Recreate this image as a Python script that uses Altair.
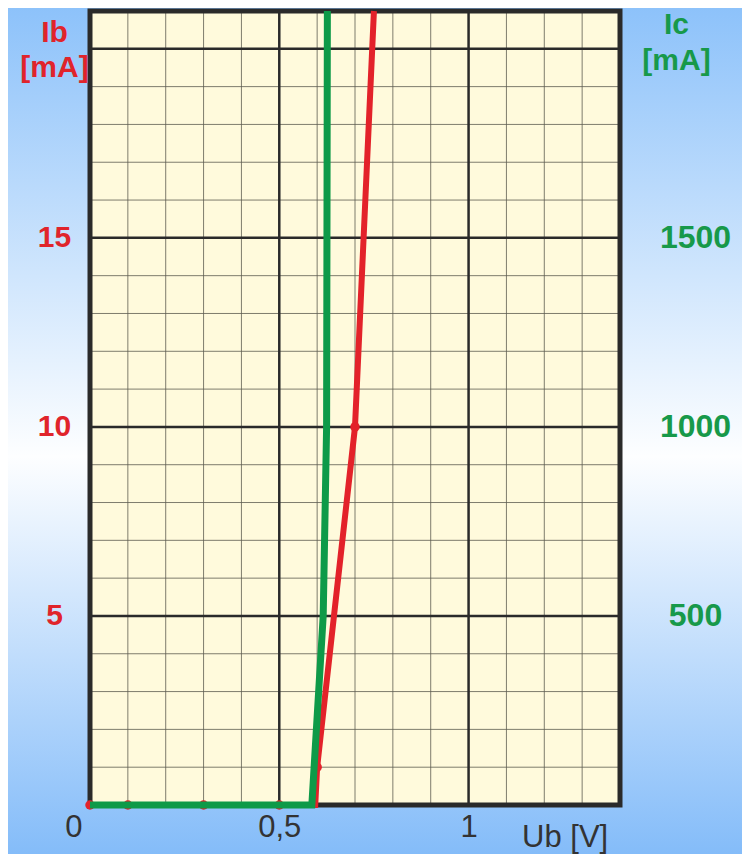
import altair as alt
import pandas as pd

# ---- data ----
ub_red_line = [0, 0.1, 0.3, 0.5, 0.595, 0.6, 0.7, 0.75]
ib_red_line = [0, 0, 0, 0, 0, 1, 10, 21]
ub_red_pts = [0, 0.1, 0.3, 0.5, 0.6, 0.7]
ib_red_pts = [0, 0, 0, 0, 1, 10]
ub_green = [0, 0.586, 0.616, 0.625, 0.627]
ic_green = [0, 0, 500, 1000, 2100]

x_ticks = [0, 0.5, 1]
x_tick_labels = ["0", "0,5", "1"]
ib_ticks = [5, 10, 15]
ic_ticks = [500, 1000, 1500]
x_minor = [0.1, 0.2, 0.3, 0.4, 0.6, 0.7, 0.8, 0.9, 1.1, 1.2, 1.3]
x_major = [0.5, 1.0]
y_minor = [1, 2, 3, 4, 6, 7, 8, 9, 11, 12, 13, 14, 16, 17, 18, 19]
y_major = [5, 10, 15, 20]

# ---- styling ----
W, H = 530, 794
PAD = {"left": 82, "top": 3, "right": 122, "bottom": 49}
FONT = "Liberation Sans"
RED = "#E3222A"
GREEN = "#0E9A48"
RED_TXT = "#E0242B"
GREEN_TXT = "#17994A"
DARK = "#2A2A2A"

xscale = alt.Scale(domain=[0, 1.4], nice=False, zero=False)
yl = alt.Scale(domain=[0, 21], nice=False)
yr = alt.Scale(domain=[0, 2100], nice=False)

label_expr = " : ".join(
    f"datum.value == {v} ? '{l}'" for v, l in zip(x_ticks, x_tick_labels)
) + " : datum.label"

x_axis = alt.Axis(
    values=x_ticks, labelExpr=label_expr, grid=False, domain=False,
    ticks=False, tickSize=0, labelFont=FONT, labelFontSize=31,
    labelColor="#333333", labelFontWeight="normal", labelBaseline="alphabetic",
    labelPadding=31,
    labelAlign={"condition": {"test": "datum.value == 0", "value": "right"}, "value": "center"},
    labelOffset={"condition": {"test": "datum.value == 0", "value": -8}, "value": 0},
    labelFlush=False, labelOverlap=False,
    title="Ub [V]", titleFont=FONT, titleFontSize=31, titleFontWeight="normal",
    titleColor="#333333", titleX=474.6, titleY=41, titleAlign="center",
    titleBaseline="alphabetic", zindex=1,
)

left_axis = alt.Axis(
    orient="left", values=ib_ticks, format="d", grid=False, domain=False, ticks=False,
    tickSize=0, labelFont=FONT, labelFontSize=30, labelFontWeight="bold",
    labelColor=RED_TXT, labelAlign="center", labelPadding=36, labelOverlap=False,
    title=["Ib", "[mA]"], titleFont=FONT, titleFontSize=30, titleFontWeight="bold",
    titleColor=RED_TXT, titleAngle=0, titleX=-36, titleY=30, titleAlign="center",
    titleBaseline="alphabetic", titleLineHeight=35, zindex=1,
)

right_axis = alt.Axis(
    orient="right", values=ic_ticks, format="d", grid=False, domain=False, ticks=False,
    tickSize=0, labelFont=FONT, labelFontSize=32, labelFontWeight="bold",
    labelColor=GREEN_TXT, labelAlign="center", labelPadding=75, labelOverlap=False,
    title=["Ic", "[mA]"], titleFont=FONT, titleFontSize=30, titleFontWeight="bold",
    titleColor=GREEN_TXT, titleAngle=0, titleX=56, titleY=22, titleAlign="center",
    titleBaseline="alphabetic", titleLineHeight=36, zindex=1,
)

one = pd.DataFrame({"k": [0]})

bg = alt.Chart(one).mark_rect(
    fill=alt.Gradient(
        gradient="linear",
        stops=[
            alt.GradientStop(color="#8DC2FA", offset=0),
            alt.GradientStop(color="#FDFEFF", offset=0.53),
            alt.GradientStop(color="#84BCF9", offset=1),
        ],
        x1=0, x2=0, y1=0, y2=1,
    )
).encode(
    x=alt.value(-PAD["left"]), x2=alt.value(W + PAD["right"]),
    y=alt.value(-PAD["top"]), y2=alt.value(H + PAD["bottom"]),
)

cream = alt.Chart(one).mark_rect(fill="#FFFADC").encode(
    x=alt.value(0), x2=alt.value(W), y=alt.value(0), y2=alt.value(H)
)

vminor = alt.Chart(pd.DataFrame({"v": x_minor})).mark_rule(
    color="#5E5C50", strokeWidth=1, opacity=0.8
).encode(x=alt.X("v:Q", scale=xscale, axis=x_axis))

hminor = alt.Chart(pd.DataFrame({"v": y_minor})).mark_rule(
    color="#5E5C50", strokeWidth=1, opacity=0.8
).encode(y=alt.Y("v:Q", scale=yl, axis=None))

vmajor = alt.Chart(pd.DataFrame({"v": x_major})).mark_rule(
    color=DARK, strokeWidth=2.5
).encode(x=alt.X("v:Q", scale=xscale, axis=x_axis))

hmajor = alt.Chart(pd.DataFrame({"v": y_major})).mark_rule(
    color=DARK, strokeWidth=2.5
).encode(y=alt.Y("v:Q", scale=yl, axis=None))

border = alt.Chart(one).mark_rect(
    fill="#FFFFFF", fillOpacity=0, stroke=DARK, strokeWidth=5
).encode(x=alt.value(0), x2=alt.value(W), y=alt.value(0), y2=alt.value(H))

red_line = alt.Chart(pd.DataFrame({"ub": ub_red_line, "ib": ib_red_line})).mark_line(
    color=RED, strokeWidth=6
).encode(
    x=alt.X("ub:Q", scale=xscale, axis=x_axis),
    y=alt.Y("ib:Q", scale=yl, axis=left_axis),
)

red_pts = alt.Chart(pd.DataFrame({"ub": ub_red_pts, "ib": ib_red_pts})).mark_circle(
    color=RED, size=90, opacity=1
).encode(
    x=alt.X("ub:Q", scale=xscale, axis=x_axis),
    y=alt.Y("ib:Q", scale=yl, axis=None),
)

green_line = alt.Chart(pd.DataFrame({"ub": ub_green, "ic": ic_green})).mark_line(
    color=GREEN, strokeWidth=7
).encode(
    x=alt.X("ub:Q", scale=xscale, axis=x_axis),
    y=alt.Y("ic:Q", scale=yr, axis=right_axis),
)

chart = alt.layer(
    bg, cream, vminor, hminor, vmajor, hmajor, border, red_line, red_pts, green_line
).resolve_scale(y="independent").properties(
    width=W, height=H, padding=PAD,
    autosize=alt.AutoSizeParams(type="none"),
    background="#A9D2FB",
).configure_view(stroke=None)

chart.save("out.html", embed_options={"renderer": "svg", "actions": False})
